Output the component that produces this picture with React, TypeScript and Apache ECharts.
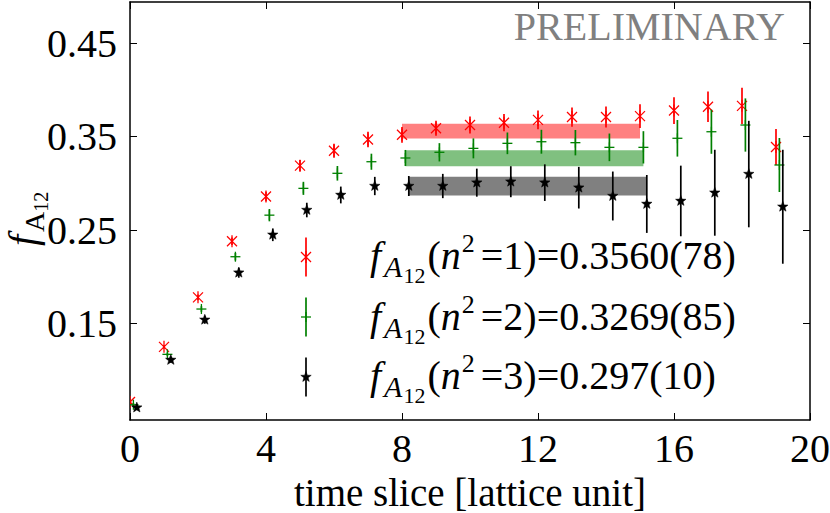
import React, { useEffect, useRef } from "react";
import * as echarts from "echarts";

const FONT = '"Liberation Serif", "Times New Roman", serif';

const timeSlices = [0, 1, 2, 3, 4, 5, 6, 7, 8, 9, 10, 11, 12, 13, 14, 15, 16, 17, 18, 19];

const valuesN1 = [0.066, 0.125, 0.178, 0.238, 0.286, 0.319, 0.335, 0.347, 0.352, 0.359, 0.3625, 0.365, 0.368, 0.371, 0.371, 0.372, 0.378, 0.382, 0.383, 0.339];
const errorsN1 = [0.002, 0.002, 0.003, 0.004, 0.005, 0.006, 0.0075, 0.0082, 0.0085, 0.008, 0.009, 0.0093, 0.01, 0.0103, 0.0112, 0.0128, 0.0143, 0.0164, 0.0193, 0.0193];

const valuesN2 = [0.063, 0.117, 0.1655, 0.2215, 0.266, 0.2947, 0.3108, 0.3232, 0.3272, 0.3333, 0.3375, 0.3429, 0.3446, 0.3436, 0.3386, 0.3386, 0.3483, 0.3553, 0.3625, 0.3197];
const errorsN2 = [0.002, 0.002, 0.003, 0.004, 0.0066, 0.007, 0.0078, 0.0086, 0.0086, 0.0098, 0.0107, 0.0116, 0.0128, 0.0136, 0.0148, 0.0173, 0.0196, 0.0236, 0.0285, 0.0289];

const valuesN3 = [0.06, 0.111, 0.154, 0.2044, 0.245, 0.2715, 0.2876, 0.2972, 0.2972, 0.2972, 0.3008, 0.3018, 0.3008, 0.2954, 0.2865, 0.278, 0.2812, 0.29, 0.31, 0.275];
const errorsN3 = [0.002, 0.003, 0.0043, 0.0054, 0.0068, 0.0078, 0.009, 0.0098, 0.0107, 0.013, 0.015, 0.0166, 0.0196, 0.0223, 0.0262, 0.031, 0.0378, 0.046, 0.057, 0.061];

const timeOffsets = [0, 0.1, 0.2];
const fitRanges = [[8, 15], [8.1, 15.1], [8.2, 15.2]];
const fitValues = [0.356, 0.3269, 0.297];
const fitErrors = [0.0078, 0.0085, 0.01];
const fitLabels = ["0.3560(78)", "0.3269(85)", "0.297(10)"];
const momenta = ["1", "2", "3"];

const yTicks = [0.15, 0.25, 0.35, 0.45];

const COLORS = ["#ff0000", "#008000", "#000000"];
const BAND_COLORS = ["#ff8080", "#80c080", "#808080"];
const KINDS = ["asterisk", "plus", "star"];

function symbolShapes(kind: string, cx: number, cy: number, color: string): any[] {
  if (kind === "asterisk") {
    const r = 5;
    return [
      { type: "line", shape: { x1: cx - r, y1: cy - r, x2: cx + r, y2: cy + r }, style: { stroke: color, lineWidth: 1.3 } },
      { type: "line", shape: { x1: cx - r, y1: cy + r, x2: cx + r, y2: cy - r }, style: { stroke: color, lineWidth: 1.3 } },
      { type: "line", shape: { x1: cx, y1: cy - r - 1, x2: cx, y2: cy + r + 1 }, style: { stroke: color, lineWidth: 1.3 } },
    ];
  }
  if (kind === "plus") {
    const r = 5;
    return [
      { type: "line", shape: { x1: cx - r, y1: cy, x2: cx + r, y2: cy }, style: { stroke: color, lineWidth: 1.3 } },
      { type: "line", shape: { x1: cx, y1: cy - r, x2: cx, y2: cy + r }, style: { stroke: color, lineWidth: 1.3 } },
    ];
  }
  const pts: number[][] = [];
  for (let k = 0; k < 10; k++) {
    const rr = k % 2 === 0 ? 5.5 : 2.3;
    const a = -Math.PI / 2 + (k * Math.PI) / 5;
    pts.push([cx + rr * Math.cos(a), cy + rr * Math.sin(a)]);
  }
  return [{ type: "polygon", shape: { points: pts }, style: { fill: color, stroke: color, lineWidth: 0.5 } }];
}

const measureCtx = typeof document !== "undefined" ? document.createElement("canvas").getContext("2d") : null;
function measure(text: string, size: number, style: string) {
  if (!measureCtx) return text.length * size * 0.5;
  measureCtx.font = `${style} ${size}px ${FONT}`;
  return measureCtx.measureText(text).width;
}

type Part = { text: string; size: number; style: string; dy: number; gap: number };

function mathText(parts: Part[], x0: number, baseline: number): any[] {
  let x = x0;
  const out: any[] = [];
  for (const p of parts) {
    out.push({
      type: "text",
      x: 0,
      y: 0,
      style: {
        text: p.text,
        x,
        y: baseline + p.dy - 0.3375 * p.size,
        fill: "#000",
        fontSize: p.size,
        fontFamily: FONT,
        fontStyle: p.style,
        lineHeight: Math.round(p.size * 0.9),
        textAlign: "left",
        align: "left",
        textVerticalAlign: "middle",
        verticalAlign: "middle",
      },
    });
    x += measure(p.text, p.size, p.style) + p.gap;
  }
  return out;
}

function legendParts(k: string, val: string): Part[] {
  return [
    { text: "f", size: 40, style: "italic", dy: 0, gap: 3 },
    { text: "A", size: 30, style: "italic", dy: 8, gap: 1 },
    { text: "12", size: 22, style: "normal", dy: 14, gap: 2 },
    { text: "(", size: 40, style: "normal", dy: 0, gap: 0 },
    { text: "n", size: 40, style: "italic", dy: 0, gap: 1 },
    { text: "2", size: 26, style: "normal", dy: -17, gap: 6 },
    { text: `=${k})=${val}`, size: 40, style: "normal", dy: 0, gap: 0 },
  ];
}

export default function App() {
  const ref = useRef<HTMLDivElement>(null);
  useEffect(() => {
    document.body.style.margin = "0";
    if (!ref.current) return;
    const chart = echarts.init(ref.current, null, { renderer: "svg" });

    const allValues = [valuesN1, valuesN2, valuesN3];
    const allErrors = [errorsN1, errorsN2, errorsN3];

    const bandSeries = fitRanges.map((r, i) => ({
      type: "custom",
      clip: true,
      z: 1,
      data: [[r[0], r[1], fitValues[i], fitErrors[i]]],
      encode: { x: [0, 1], y: 2 },
      renderItem: (params: any, api: any) => {
        const p0 = api.coord([api.value(0), api.value(2) + api.value(3)]);
        const p1 = api.coord([api.value(1), api.value(2) - api.value(3)]);
        return {
          type: "rect",
          shape: { x: p0[0], y: p0[1], width: p1[0] - p0[0], height: p1[1] - p0[1] },
          style: { fill: BAND_COLORS[i] },
        };
      },
    }));

    const pointSeries = allValues.map((vals, i) => ({
      type: "custom",
      clip: true,
      z: 3,
      data: timeSlices.map((t, j) => [t + timeOffsets[i], vals[j], allErrors[i][j]]),
      encode: { x: 0, y: 1 },
      renderItem: (params: any, api: any) => {
        const x = api.value(0);
        const y = api.value(1);
        const e = api.value(2);
        const c = api.coord([x, y]);
        const hi = api.coord([x, y + e]);
        const lo = api.coord([x, y - e]);
        return {
          type: "group",
          children: [
            { type: "line", shape: { x1: c[0], y1: hi[1], x2: c[0], y2: lo[1] }, style: { stroke: COLORS[i], lineWidth: 1.7 } },
            ...symbolShapes(KINDS[i], c[0], c[1], COLORS[i]),
          ],
        };
      },
    }));

    const legendX = 306;
    const legendY = [257, 317, 377];
    const legendBase = [269, 330, 389];
    const legendGraphics: any[] = [];
    for (let i = 0; i < 3; i++) {
      legendGraphics.push({
        type: "line",
        shape: { x1: legendX, y1: legendY[i] - 19.5, x2: legendX, y2: legendY[i] + 19.5 },
        style: { stroke: COLORS[i], lineWidth: 1.7 },
      });
      for (const s of symbolShapes(KINDS[i], legendX, legendY[i], COLORS[i])) legendGraphics.push(s);
      for (const t of mathText(legendParts(momenta[i], fitLabels[i]), 370, legendBase[i])) legendGraphics.push(t);
    }

    const yLabelParts: Part[] = [
      { text: "f", size: 40, style: "italic", dy: 0, gap: 3 },
      { text: "A", size: 28, style: "normal", dy: 8, gap: 0 },
      { text: "12", size: 20, style: "normal", dy: 12, gap: 0 },
    ];

    const axisCommon = {
      type: "value",
      axisLine: { show: true, onZero: false, lineStyle: { color: "#000", width: 1.5 } },
      splitLine: { show: false },
    };

    chart.setOption({
      animation: false,
      grid: { left: 130, right: 20, top: 2, bottom: 93, containLabel: false, outerBoundsMode: "none" },
      xAxis: [
        {
          ...axisCommon,
          position: "bottom",
          min: 0,
          max: 20,
          interval: 4,
          axisTick: { show: true, inside: true, length: 7, lineStyle: { color: "#000", width: 1 } },
          axisLabel: { show: true, color: "#000", fontSize: 40, fontFamily: FONT, margin: 8 },
          name: "time slice [lattice unit]",
          nameLocation: "middle",
          nameGap: 50,
          nameTextStyle: { color: "#000", fontSize: 39, fontFamily: FONT, lineHeight: 36 },
        },
        {
          ...axisCommon,
          position: "top",
          min: 0,
          max: 20,
          interval: 4,
          axisTick: { show: true, inside: true, length: 7, lineStyle: { color: "#000", width: 1 } },
          axisLabel: { show: false },
        },
      ],
      yAxis: [
        {
          ...axisCommon,
          position: "left",
          min: 0.0467,
          max: 0.4942,
          axisTick: { show: true, inside: true, length: 7, customValues: yTicks, lineStyle: { color: "#000", width: 1 } },
          axisLabel: {
            show: true,
            customValues: yTicks,
            formatter: (v: number) => v.toFixed(2),
            color: "#000",
            fontSize: 40,
            fontFamily: FONT,
            margin: 13,
          },
        },
        {
          ...axisCommon,
          position: "right",
          min: 0.0467,
          max: 0.4942,
          axisTick: { show: true, inside: true, length: 7, customValues: yTicks, lineStyle: { color: "#000", width: 1 } },
          axisLabel: { show: false },
        },
      ],
      series: [...bandSeries, ...pointSeries],
      graphic: [
        {
          type: "text",
          style: {
            text: "PRELIMINARY",
            x: 785,
            y: 40 - 0.3375 * 40,
            fill: "#808080",
            fontSize: 40,
            fontFamily: FONT,
            textAlign: "right",
            align: "right",
            textVerticalAlign: "middle",
            verticalAlign: "middle",
          },
        },
        {
          type: "group",
          x: 36,
          y: 246,
          rotation: Math.PI / 2,
          children: mathText(yLabelParts, 0, 0),
        },
        ...legendGraphics,
      ],
    });

    return () => chart.dispose();
  }, []);

  return <div ref={ref} style={{ width: 830, height: 513 }} />;
}
